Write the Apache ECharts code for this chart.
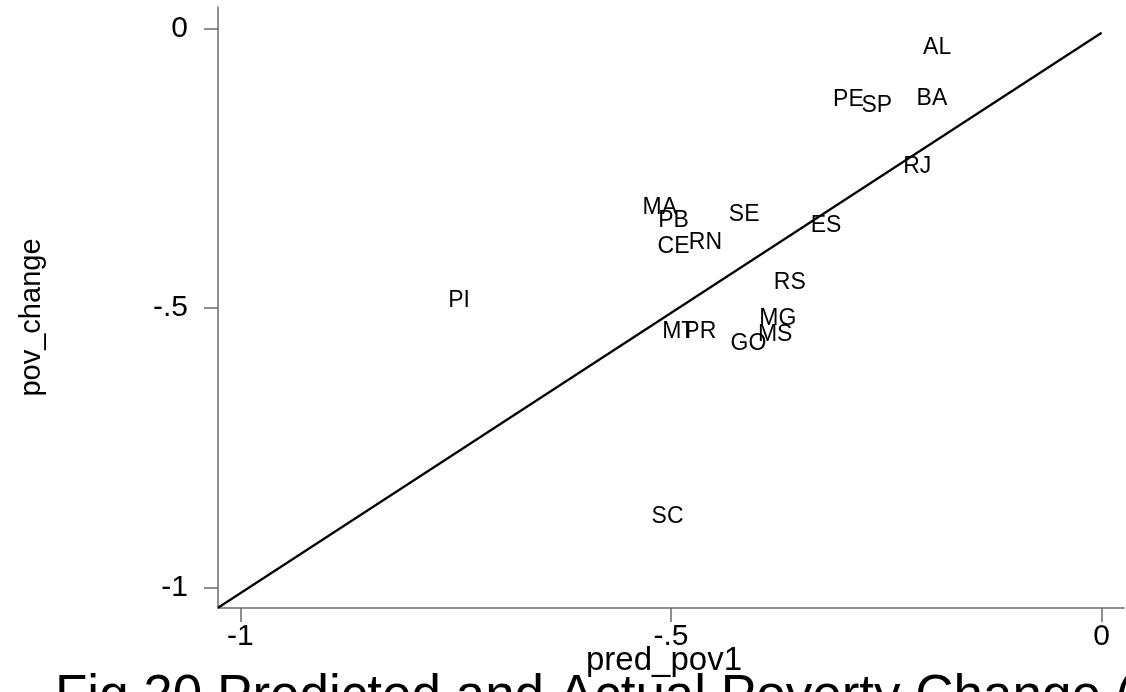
<!DOCTYPE html>
<html>
<head>
<meta charset="utf-8">
<script src="https://cdn.jsdelivr.net/npm/echarts@6/dist/echarts.min.js"></script>
<style>
  html, body { margin: 0; padding: 0; background: #fff; overflow: hidden; }
  #chart { width: 1126px; height: 692px; }
</style>
</head>
<body>
<div id="chart"></div>
<script>
// State codes with predicted (pred_pov1) and actual (pov_change) poverty change
const states = ['AL','PE','SP','BA','RJ','MA','PB','SE','ES','CE','RN','RS','PI','MT','PR','MG','MS','GO','SC'];
const predPov = [-0.191,-0.294,-0.261,-0.197,-0.214,-0.513,-0.497,-0.415,-0.320,-0.497,-0.460,-0.362,-0.746,-0.491,-0.466,-0.376,-0.379,-0.410,-0.504];
const povChange = [-0.035,-0.128,-0.138,-0.126,-0.248,-0.321,-0.344,-0.334,-0.353,-0.391,-0.384,-0.455,-0.487,-0.543,-0.543,-0.520,-0.547,-0.564,-0.874];

// Reference line ends (predicted = actual)
const refLineX = [-1.026, 0];
const refLineY = [-1.036, -0.008];

// Axis ticks and their printed labels
const tickValues = [-1, -0.5, 0];
const tickLabels = ['-1', '-.5', '0'];

const xRange = [-1.026, 0.026];
const yRange = [-1.0365, 0.038];

const titleText = 'Fig 20 Predicted and Actual Poverty Change (';
const xName = 'pred_pov1';
const yName = 'pov_change';

const font = '"Liberation Sans", Arial, Helvetica, sans-serif';
const axisGray = '#6a6a6a';

function tickText(v) {
  const i = tickValues.findIndex(t => Math.abs(t - v) < 1e-9);
  return i >= 0 ? tickLabels[i] : '';
}

const points = states.map((s, i) => ({ name: s, value: [predPov[i], povChange[i]] }));
const refLine = refLineX.map((x, i) => [x, refLineY[i]]);

const chart = echarts.init(document.getElementById('chart'), null, { renderer: 'canvas' });
chart.setOption({
  animation: false,
  backgroundColor: '#ffffff',
  textStyle: { fontFamily: font },
  title: {
    text: titleText,
    left: 55,
    top: 671,
    padding: 0,
    textStyle: { fontFamily: font, fontSize: 53, fontWeight: 'normal', color: '#000' }
  },
  grid: { left: 218, right: 2, top: 7, bottom: 84, containLabel: false, outerBoundsMode: 'none' },
  xAxis: {
    type: 'value',
    min: xRange[0],
    max: xRange[1],
    name: xName,
    nameLocation: 'middle',
    nameGap: 36,
    nameMoveOverlap: false,
    nameTextStyle: { fontFamily: font, fontSize: 33, color: '#000', padding: [0, 14, 0, 0] },
    axisLine: { show: true, onZero: false, lineStyle: { color: axisGray, width: 1.5 } },
    axisTick: { show: true, length: 14, customValues: tickValues, lineStyle: { color: axisGray, width: 1.5 } },
    axisLabel: { customValues: tickValues, formatter: tickText, fontFamily: font, fontSize: 30, color: '#000', margin: 14 },
    splitLine: { show: false }
  },
  yAxis: {
    type: 'value',
    min: yRange[0],
    max: yRange[1],
    name: yName,
    nameLocation: 'middle',
    nameGap: 172,
    nameRotate: 90,
    nameMoveOverlap: false,
    nameTextStyle: { fontFamily: font, fontSize: 29, color: '#000', padding: [0, 20, 0, 0] },
    axisLine: { show: true, onZero: false, lineStyle: { color: axisGray, width: 1.5 } },
    axisTick: { show: true, length: 14, customValues: tickValues, lineStyle: { color: axisGray, width: 1.5 } },
    axisLabel: { customValues: tickValues, formatter: tickText, fontFamily: font, fontSize: 30, color: '#000', margin: 30 },
    splitLine: { show: false }
  },
  series: [
    {
      type: 'line',
      data: refLine,
      symbol: 'none',
      lineStyle: { color: '#000', width: 2.2 },
      silent: true,
      z: 2
    },
    {
      type: 'scatter',
      data: points,
      symbol: 'circle',
      symbolSize: 1,
      itemStyle: { color: 'rgba(0,0,0,0)' },
      label: {
        show: true,
        position: 'inside',
        formatter: p => p.name,
        fontFamily: font,
        fontSize: 23,
        color: '#000',
        opacity: 1,
        textBorderWidth: 0
      },
      labelLayout: { hideOverlap: false },
      z: 3
    }
  ]
});
</script>
</body>
</html>
